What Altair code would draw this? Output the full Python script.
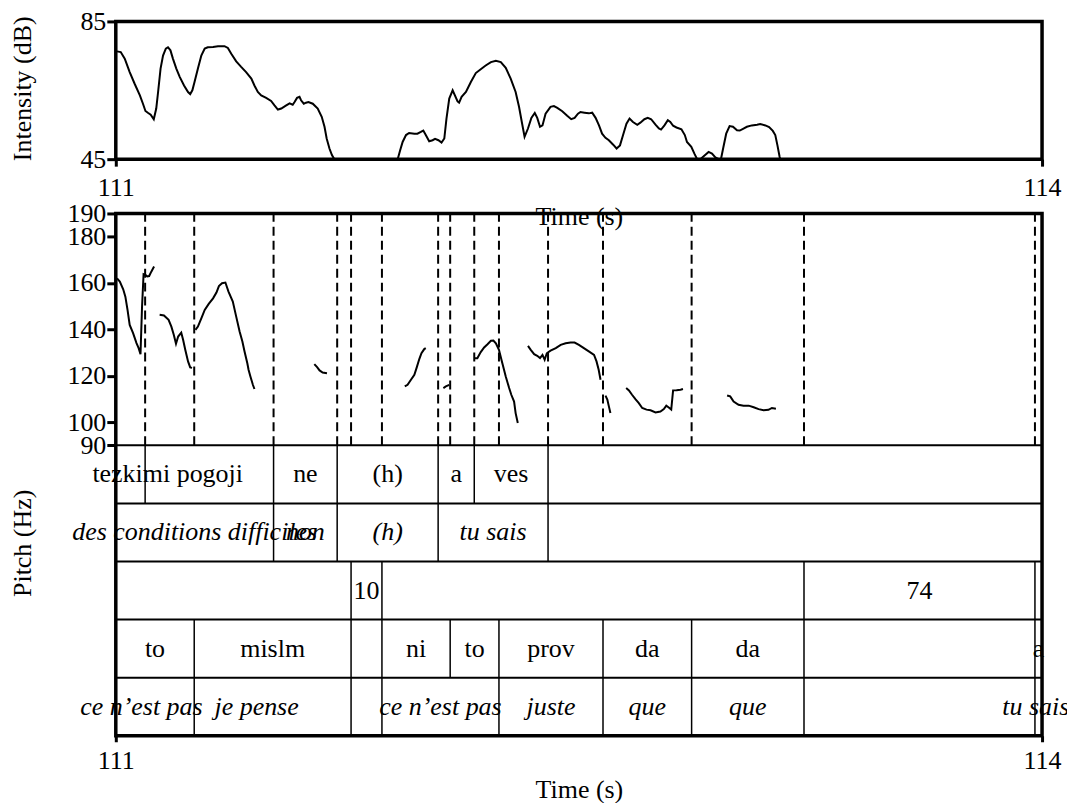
import altair as alt
import pandas as pd

FONT = "Liberation Serif"
FS = 26

# ---------------- Intensity contour (time in s, intensity in dB) ----------------
int_time = [111.004, 111.016, 111.029, 111.045, 111.061, 111.078, 111.088, 111.096, 111.105, 111.113,
            111.123, 111.131, 111.137, 111.145, 111.153, 111.162, 111.169, 111.177, 111.185, 111.196,
            111.207, 111.221, 111.234, 111.241, 111.248, 111.255, 111.266, 111.277, 111.288, 111.298,
            111.315, 111.331, 111.352, 111.363, 111.374, 111.390, 111.406, 111.422, 111.439, 111.449,
            111.460, 111.471, 111.487, 111.503, 111.514, 111.525, 111.536, 111.552, 111.563, 111.573,
            111.579, 111.587, 111.595, 111.600, 111.609, 111.616, 111.624, 111.638, 111.654, 111.667,
            111.676, 111.683, 111.692, 111.700, 111.708, 111.913, 111.921, 111.929, 111.940, 111.950,
            111.967, 111.977, 111.988, 111.996, 112.004, 112.015, 112.026, 112.034, 112.045, 112.055,
            112.064, 112.071, 112.080, 112.091, 112.107, 112.112, 112.120, 112.134, 112.150, 112.166,
            112.182, 112.198, 112.215, 112.231, 112.247, 112.263, 112.279, 112.295, 112.306, 112.315,
            112.324, 112.335, 112.346, 112.357, 112.365, 112.374, 112.382, 112.392, 112.408, 112.419,
            112.430, 112.446, 112.462, 112.475, 112.486, 112.497, 112.505, 112.518, 112.532, 112.543,
            112.554, 112.565, 112.575, 112.586, 112.597, 112.611, 112.622, 112.633, 112.643, 112.654,
            112.664, 112.675, 112.689, 112.699, 112.712, 112.723, 112.734, 112.748, 112.759, 112.766,
            112.777, 112.788, 112.796, 112.805, 112.816, 112.832, 112.843, 112.850, 112.864, 112.874,
            112.883, 112.893, 112.906, 112.920, 112.931, 112.942, 112.953, 112.960, 112.967, 112.977,
            112.988, 112.999, 113.012, 113.021, 113.033, 113.044, 113.060, 113.077, 113.087, 113.104,
            113.116, 113.128, 113.136, 113.143, 113.150, 113.152]
int_db = [76.3, 76.1, 74.2, 70.3, 66.9, 63.5, 61.1, 59.0, 58.4, 57.9,
          56.6, 59.7, 64.5, 71.3, 75.1, 77.1, 77.5, 76.6, 74.2, 71.3,
          68.9, 66.4, 64.5, 63.9, 65.0, 67.4, 71.3, 75.1, 77.1, 77.5,
          77.6, 77.8, 77.8, 77.3, 75.6, 73.4, 71.8, 70.3, 68.4, 66.4,
          64.5, 63.5, 62.8, 61.9, 60.6, 59.4, 59.7, 60.6, 61.2, 60.8,
          61.6, 62.8, 63.1, 62.1, 61.1, 61.4, 61.6, 61.1, 59.7, 57.3,
          54.4, 51.0, 48.1, 46.2, 45.0, 45.0, 47.6, 50.0, 52.0, 52.6,
          52.4, 52.4, 52.9, 53.3, 52.0, 50.2, 50.5, 50.9, 50.5, 49.8,
          51.0, 56.8, 62.6, 65.0, 61.8, 61.4, 63.1, 64.5, 67.4, 70.0,
          71.1, 72.2, 73.2, 73.6, 73.2, 71.5, 68.4, 64.5, 60.2, 55.8,
          51.5, 53.9, 57.0, 58.4, 57.0, 54.4, 54.8, 58.2, 60.2, 60.4,
          59.9, 58.9, 57.6, 56.6, 57.0, 58.2, 58.7, 58.5, 58.3, 58.5,
          57.0, 54.8, 52.4, 51.2, 50.5, 49.2, 48.1, 49.0, 52.0, 55.3,
          56.8, 55.8, 55.0, 55.6, 56.6, 57.0, 56.6, 55.0, 53.9, 53.6,
          54.8, 56.3, 55.8, 54.7, 54.2, 53.7, 52.0, 50.0, 48.6, 46.6,
          45.0, 45.0, 46.0, 47.1, 46.6, 45.5, 45.0, 45.0, 48.1, 52.4,
          54.6, 54.4, 53.4, 53.3, 53.9, 54.4, 54.8, 55.0, 55.2, 54.8,
          54.3, 53.2, 52.0, 49.0, 45.7, 45.0]

# ---------------- Pitch contour (voiced stretches) ----------------
pitch_time = [
    [111.004, 111.013, 111.024, 111.031, 111.038, 111.045, 111.056, 111.067, 111.074, 111.080,
     111.085, 111.090, 111.096, 111.102, 111.108, 111.115, 111.124],
    [111.142, 111.156, 111.171, 111.180, 111.188, 111.195, 111.202, 111.212, 111.218, 111.225,
     111.234, 111.241, 111.247],
    [111.258, 111.266, 111.277, 111.288, 111.301, 111.315, 111.326, 111.334, 111.344, 111.355,
     111.365, 111.379, 111.390, 111.401, 111.410, 111.417, 111.426, 111.430, 111.436, 111.444, 111.449],
    [111.643, 111.652, 111.660, 111.670, 111.684],
    [111.936, 111.945, 111.956, 111.967, 111.974, 111.983, 111.990, 111.999, 112.004],
    [112.061, 112.069, 112.080],
    [112.161, 112.171, 112.182, 112.193, 112.204, 112.215, 112.223, 112.231, 112.236, 112.241,
     112.252, 112.263, 112.274, 112.281, 112.290, 112.295, 112.302],
    [112.335, 112.344, 112.355, 112.365, 112.374, 112.382, 112.389, 112.396, 112.408, 112.425,
     112.441, 112.457, 112.473, 112.486, 112.500, 112.516, 112.532, 112.549, 112.557, 112.564, 112.570],
    [112.586, 112.592, 112.597, 112.602],
    [112.653, 112.662, 112.672, 112.683, 112.694, 112.705, 112.719, 112.732, 112.748, 112.764,
     112.775, 112.783, 112.791, 112.799, 112.805, 112.816, 112.829, 112.837],
    [112.980, 112.990, 113.001, 113.017, 113.033, 113.050, 113.066, 113.082, 113.098, 113.114,
     113.125, 113.138],
]
pitch_hz = [
    [162.0, 160.6, 157.3, 154.1, 148.4, 141.9, 138.4, 134.1, 131.9, 129.3,
     149.8, 163.8, 163.5, 162.8, 163.0, 164.9, 167.1],
    [146.3, 146.0, 144.1, 141.2, 137.6, 133.8, 136.9, 138.6, 135.5, 131.2,
     126.2, 123.6, 123.4],
    [139.8, 141.2, 144.8, 148.4, 151.0, 153.4, 155.9, 158.7, 159.9, 160.2,
     156.3, 152.0, 145.5, 139.1, 134.8, 130.5, 125.4, 122.6, 119.7, 116.1, 114.3],
    [125.0, 123.7, 122.3, 121.4, 121.1],
    [115.4, 116.1, 118.3, 120.4, 123.3, 127.2, 129.7, 131.5, 131.9],
    [114.7, 115.4, 116.1],
    [127.6, 127.6, 130.2, 132.2, 133.6, 135.1, 135.2, 134.0, 132.6, 131.2,
     125.4, 119.7, 114.7, 111.8, 108.9, 103.9, 99.6],
    [132.9, 131.2, 129.3, 128.6, 127.6, 129.0, 126.9, 129.7, 130.8, 131.9,
     133.3, 134.0, 134.3, 134.3, 133.3, 131.9, 130.5, 129.0, 126.2, 122.6, 118.3],
    [111.4, 109.7, 106.8, 103.9],
    [114.7, 113.7, 111.8, 109.9, 108.2, 106.1, 105.4, 105.1, 104.2, 104.6,
     105.6, 107.1, 106.3, 105.4, 113.7, 113.8, 114.0, 114.3],
    [111.5, 111.1, 108.9, 107.5, 107.1, 107.1, 106.4, 105.6, 105.1, 105.3,
     106.1, 105.8],
]

# ---------------- TextGrid tiers ----------------
t_start, t_end = 111.0, 114.0
tier1_bounds = [111.095, 111.511, 111.717, 112.044, 112.161, 112.400]
tier1_labels = ["", "tezkimi pogoji", "ne", "(h)", "a", "ves", ""]
tier1_anchor = {1: 111.168}

tier2_bounds = [111.511, 111.717, 112.044, 112.400]
tier2_labels = ["des conditions difficiles", "non", "(h)", "tu sais", ""]
tier2_anchor = {}

tier3_bounds = [111.762, 111.862, 113.229, 113.977]
tier3_labels = ["", "10", "", "74", ""]
tier3_anchor = {}

tier4_bounds = [111.254, 111.762, 111.862, 112.083, 112.241, 112.578, 112.865, 113.229, 113.977]
tier4_labels = ["to", "mislm", "", "ni", "to", "prov", "da", "da", "", "a"]
tier4_anchor = {}

tier5_bounds = [111.254, 111.762, 111.862, 112.241, 112.578, 112.865, 113.229, 113.977]
tier5_labels = ["ce n\u2019est pas", "je pense", "", "ce n\u2019est pas", "juste", "que", "que", "", "tu sais"]
tier5_anchor = {0: 111.083, 1: 111.456, 8: 113.980}

tiers = [
    (tier1_bounds, tier1_labels, tier1_anchor, False),
    (tier2_bounds, tier2_labels, tier2_anchor, True),
    (tier3_bounds, tier3_labels, tier3_anchor, False),
    (tier4_bounds, tier4_labels, tier4_anchor, False),
    (tier5_bounds, tier5_labels, tier5_anchor, True),
]

# ---------------- build tables ----------------
int_df = pd.DataFrame({"t": int_time, "db": int_db})

prow = []
for k, (ts, hs) in enumerate(zip(pitch_time, pitch_hz)):
    for t, h in zip(ts, hs):
        prow.append({"t": t, "hz": h, "seg": k})
pitch_df = pd.DataFrame(prow)

text_rows, bound_rows = [], []
all_bounds = set()
for i, (bnds, labs, anch, ital) in enumerate(tiers):
    edges = [t_start] + bnds + [t_end]
    for j, lab in enumerate(labs):
        if lab:
            a = anch.get(j, 0.5 * (edges[j] + edges[j + 1]))
            text_rows.append({"t": a, "tier": i + 0.5, "label": lab, "italic": ital})
    for b in bnds:
        bound_rows.append({"t": b, "top": i, "bot": i + 1})
        all_bounds.add(b)
text_df = pd.DataFrame(text_rows)
bound_df = pd.DataFrame(bound_rows)
dash_df = pd.DataFrame({"t": sorted(all_bounds)})
dash_df["lo"] = 90
dash_df["hi"] = 190
sep_df = pd.DataFrame({"t": [t_start] * 5, "t2": [t_end] * 5, "tier": [0, 1, 2, 3, 4]})

# ---------------- scales / axes ----------------
x_scale = alt.Scale(domain=[t_start, t_end], nice=False, zero=False)

def x_axis(tick, lab_pad, title_y):
    return alt.Axis(values=[111, 114], format="d", title="Time (s)", domain=False, grid=False,
                    ticks=True, tickSize=tick, tickWidth=3, tickColor="black",
                    labelFont=FONT, labelFontSize=FS, labelColor="black", labelFlush=False,
                    labelOverlap=False, labelBaseline="alphabetic", labelPadding=lab_pad,
                    titleFont=FONT, titleFontSize=FS, titleFontWeight="normal", titleColor="black",
                    titleBaseline="alphabetic", titleY=title_y)

def y_axis(vals, title, title_y):
    return alt.Axis(values=vals, title=title, domain=False, grid=False, ticks=True,
                    tickSize=9, tickWidth=3, tickColor="black",
                    labelFont=FONT, labelFontSize=FS, labelColor="black", labelPadding=1,
                    labelBaseline="middle", labelOverlap=False, labelFlush=False,
                    titleFont=FONT, titleFontSize=FS, titleFontWeight="normal", titleColor="black",
                    titleAngle=270, titleAlign="center", titleBaseline="middle",
                    titleX=-93, titleY=title_y)

# ---------------- intensity panel ----------------
inten = alt.Chart(int_df).mark_line(color="black", strokeWidth=2).encode(
    x=alt.X("t:Q", scale=x_scale, axis=x_axis(7, 29, 65)),
    y=alt.Y("db:Q", scale=alt.Scale(domain=[45, 85], nice=False, zero=False),
            axis=y_axis([45, 85], "Intensity (dB)", 67)),
).properties(width=928, height=138)

# ---------------- pitch + tiers panel ----------------
PH = 232.3
TH = 58.2
pitch_scale = alt.Scale(domain=[90, 190], range=[PH, 0], nice=False, zero=False)
tier_scale = alt.Scale(domain=[0, 5], range=[PH, PH + 5 * TH], nice=False, zero=False)
bx = alt.X("t:Q", scale=x_scale, axis=x_axis(6, 27, 62))
pitch_axis = y_axis([90, 100, 120, 140, 160, 180, 190], "Pitch (Hz)", 330)

dashed = alt.Chart(dash_df).mark_rule(color="black", strokeWidth=2, strokeDash=[9, 5]).encode(
    x=bx, y=alt.Y("lo:Q", scale=pitch_scale, axis=pitch_axis), y2="hi:Q")
contour = alt.Chart(pitch_df).mark_line(color="black", strokeWidth=2).encode(
    x=bx, y=alt.Y("hz:Q", scale=pitch_scale, axis=pitch_axis), detail="seg:N")
pitch_layer = alt.layer(dashed, contour)

seps = alt.Chart(sep_df).mark_rule(color="black", strokeWidth=2).encode(
    x=bx, x2="t2:Q", y=alt.Y("tier:Q", scale=tier_scale, axis=None))
vlines = alt.Chart(bound_df).mark_rule(color="black", strokeWidth=1.5).encode(
    x=bx, y=alt.Y("top:Q", scale=tier_scale, axis=None), y2="bot:Q")
txt_up = alt.Chart(text_df).transform_filter("!datum.italic").mark_text(
    font=FONT, fontSize=FS, color="black", baseline="middle", align="center").encode(
    x=bx, y=alt.Y("tier:Q", scale=tier_scale, axis=None), text="label:N")
txt_it = alt.Chart(text_df).transform_filter("datum.italic").mark_text(
    font=FONT, fontSize=FS, fontStyle="italic", color="black", baseline="middle", align="center").encode(
    x=bx, y=alt.Y("tier:Q", scale=tier_scale, axis=None), text="label:N")
tier_layer = alt.layer(seps, vlines, txt_up, txt_it)

pitch_tiers = alt.layer(pitch_layer, tier_layer).resolve_scale(y="independent").properties(
    width=928, height=PH + 5 * TH)

chart = alt.vconcat(inten, pitch_tiers, spacing=54.4, bounds="flush").properties(
    padding={"left": 0, "top": -2.3, "right": -5, "bottom": -3}
).configure_view(stroke="black", strokeWidth=3.5)

chart.save("out.html", embed_options={"renderer": "svg", "actions": False})
